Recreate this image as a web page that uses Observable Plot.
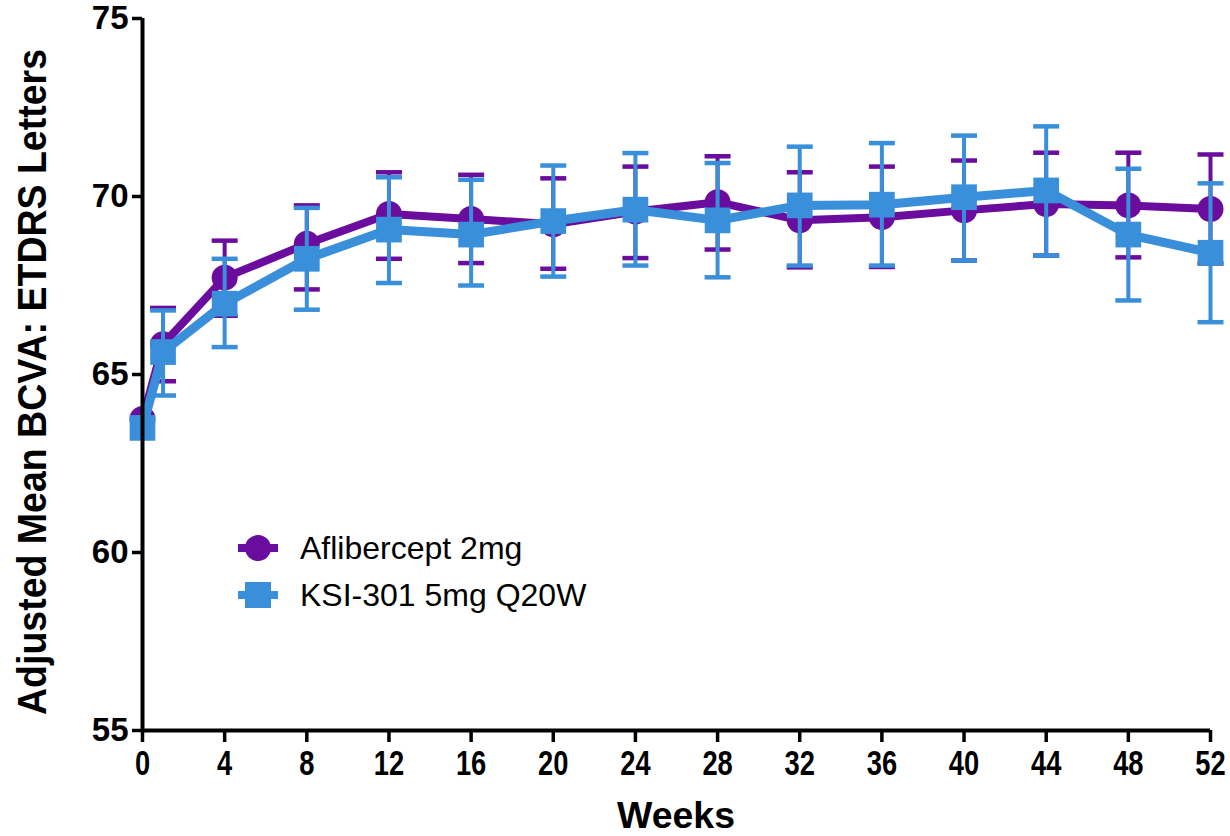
<!DOCTYPE html>
<html>
<head>
<meta charset="utf-8">
<script src="https://cdn.jsdelivr.net/npm/d3@7"></script>
<script src="https://cdn.jsdelivr.net/npm/@observablehq/plot@0.6"></script>
<style>
  html, body { margin: 0; padding: 0; background: #fff; }
  #chart svg { display: block; }
</style>
</head>
<body>
<div id="chart"></div>
<script>
// ---- data ----
const weeks = [0, 1, 4, 8, 12, 16, 20, 24, 28, 32, 36, 40, 44, 48, 52];
const seriesNames = ["Aflibercept 2mg", "KSI-301 5mg Q20W"];
const afliMean  = [63.75, 65.85, 67.72, 68.67, 69.51, 69.37, 69.22, 69.58, 69.84, 69.33, 69.42, 69.61, 69.79, 69.75, 69.65];
const afliUpper = [null,  66.87, 68.76, 69.75, 70.68, 70.61, 70.51, 70.84, 71.13, 70.68, 70.84, 71.01, 71.23, 71.23, 71.18];
const afliLower = [null,  64.81, 66.65, 67.39, 68.25, 68.13, 67.97, 68.27, 68.51, 68.01, 68.02, 68.20, 68.34, 68.29, 68.12];
const ksiMean   = [63.50, 65.63, 66.99, 68.25, 69.07, 68.93, 69.31, 69.63, 69.33, 69.75, 69.77, 69.98, 70.17, 68.93, 68.42];
const ksiUpper  = [null,  66.80, 68.25, 69.68, 70.54, 70.47, 70.87, 71.22, 70.94, 71.40, 71.50, 71.71, 71.97, 70.78, 70.37];
const ksiLower  = [null,  64.41, 65.77, 66.82, 67.57, 67.50, 67.75, 68.06, 67.73, 68.06, 68.06, 68.20, 68.34, 67.08, 66.47];
const xTicks = [0, 4, 8, 12, 16, 20, 24, 28, 32, 36, 40, 44, 48, 52];
const yTicks = [55, 60, 65, 70, 75];

const purple = "#6A0D9E";
const blue = "#3A8FDA";

const afli = weeks.map((w, i) => ({week: w, mean: afliMean[i], lo: afliLower[i], hi: afliUpper[i]}));
const ksi  = weeks.map((w, i) => ({week: w, mean: ksiMean[i],  lo: ksiLower[i],  hi: ksiUpper[i]}));
const afliErr = afli.filter(d => d.hi != null);
const ksiErr  = ksi.filter(d => d.hi != null);

// horizontal cap symbol for error bars
const cap = { draw(ctx) { ctx.moveTo(-13, 0); ctx.lineTo(13, 0); } };

function errorMarks(data, color) {
  return [
    Plot.ruleX(data, {x: "week", y1: "lo", y2: "hi", stroke: color, strokeWidth: 4}),
    Plot.dot(data, {x: "week", y: "hi", symbol: cap, r: 5, stroke: color, strokeWidth: 4.5, fill: "none"}),
    Plot.dot(data, {x: "week", y: "lo", symbol: cap, r: 5, stroke: color, strokeWidth: 4.5, fill: "none"})
  ];
}

const W = 1230, H = 836;
const chart = Plot.plot({
  width: W,
  height: H,
  marginLeft: 142,
  marginRight: 20,
  marginTop: 18,
  marginBottom: 106,
  style: {fontFamily: "'Liberation Sans', Arial, sans-serif", background: "#fff", overflow: "visible"},
  x: {domain: [0, 52], ticks: xTicks},
  y: {domain: [55, 75], ticks: yTicks},
  marks: [
    ...errorMarks(afliErr, purple),
    Plot.line(afli, {x: "week", y: "mean", stroke: purple, strokeWidth: 8, strokeLinejoin: "round"}),
    Plot.dot(afli, {x: "week", y: "mean", r: 13, fill: purple, stroke: "none"}),
    ...errorMarks(ksiErr, blue),
    Plot.line(ksi, {x: "week", y: "mean", stroke: blue, strokeWidth: 9, strokeLinejoin: "round"}),
    Plot.dot(ksi, {x: "week", y: "mean", r: 14.5, symbol: "square", fill: blue, stroke: "none"}),
    Plot.ruleX([0], {stroke: "#000", strokeWidth: 4}),
    Plot.ruleY([55], {stroke: "#000", strokeWidth: 4}),
    Plot.axisY({ticks: yTicks, tickSize: 10, tickPadding: 4, stroke: "#000", strokeWidth: 3.5,
      fontSize: 33, fontWeight: "bold", label: null, tickFormat: d => String(d)}),
    Plot.axisX({ticks: xTicks, tickSize: 12, tickPadding: 8, stroke: "#000", strokeWidth: 3.5,
      fontSize: 35, fontWeight: "bold", label: null, tickFormat: d => String(d)})
  ]
});

const svg = d3.select(chart);

// tick label fonts (set explicitly on the text elements)
svg.selectAll('g[aria-label="y-axis tick label"] text')
  .attr("font-size", 33).style("font-size", "33px").attr("font-weight", "bold");
svg.selectAll('g[aria-label="x-axis tick label"] text').each(function() {
  const t = d3.select(this);
  const tr = t.attr("transform") || "";
  t.attr("font-size", 35).style("font-size", "35px").attr("font-weight", "bold")
   .attr("transform", tr + " scale(0.78,1)");
});

// axis titles
svg.append("text")
  .attr("x", 676).attr("y", 828)
  .attr("text-anchor", "middle")
  .attr("font-family", "'Liberation Sans', Arial, sans-serif")
  .attr("font-weight", "bold").attr("font-size", 37).attr("fill", "#000")
  .attr("textLength", 118).attr("lengthAdjust", "spacingAndGlyphs")
  .text("Weeks");

svg.append("text")
  .attr("transform", "translate(46,382) rotate(-90)")
  .attr("text-anchor", "middle")
  .attr("font-family", "'Liberation Sans', Arial, sans-serif")
  .attr("font-weight", "bold").attr("font-size", 40).attr("fill", "#000")
  .attr("textLength", 666).attr("lengthAdjust", "spacingAndGlyphs")
  .text("Adjusted Mean BCVA: ETDRS Letters");

// legend
const legend = svg.append("g");
const items = [
  {name: seriesNames[0], color: purple, y: 548, shape: "circle"},
  {name: seriesNames[1], color: blue, y: 595, shape: "square"}
];
items.forEach(it => {
  legend.append("line").attr("x1", 238).attr("x2", 278).attr("y1", it.y).attr("y2", it.y)
    .attr("stroke", it.color).attr("stroke-width", 8);
  if (it.shape === "circle") {
    legend.append("circle").attr("cx", 258).attr("cy", it.y).attr("r", 13).attr("fill", it.color);
  } else {
    legend.append("rect").attr("x", 245).attr("y", it.y - 13).attr("width", 26).attr("height", 26).attr("fill", it.color);
  }
  legend.append("text").attr("x", 300).attr("y", it.y + 11)
    .attr("text-anchor", "start")
    .attr("font-family", "'Liberation Sans', Arial, sans-serif")
    .attr("font-size", 32).attr("fill", "#000").text(it.name);
});

document.getElementById("chart").appendChild(chart);
</script>
</body>
</html>
